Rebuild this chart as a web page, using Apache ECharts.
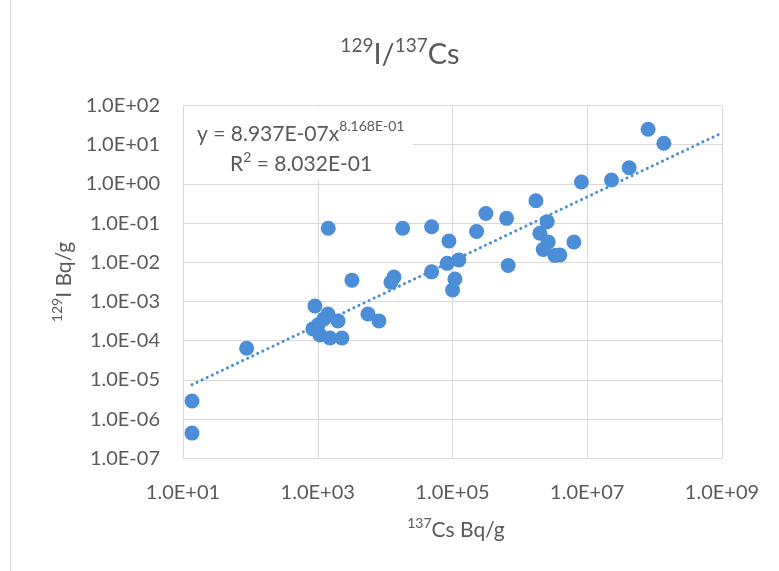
<!DOCTYPE html>
<html>
<head>
<meta charset="utf-8">
<script src="https://cdn.jsdelivr.net/npm/echarts@6/dist/echarts.min.js"></script>
<style>
html,body{margin:0;padding:0;background:#fff;}
#chart{width:779px;height:571px;}
</style>
</head>
<body>
<div id="chart"></div>
<script>
// ---- data ----
const cs137 = [13.6, 13.6, 88, 908, 1416, 1995, 849, 1007, 1079, 1518, 2286, 1236, 5560, 8090,
  1432, 3214, 12190, 13520, 18200, 49000, 49000, 88500, 83400, 124000, 108600, 100200,
  227500, 313000, 635000, 670000, 1.73e6, 1.98e6, 2.54e6, 2.63e6, 2.22e6, 3.30e6, 3.92e6, 6.33e6,
  8.2e6, 2.29e7, 4.19e7, 8.0e7, 1.37e8];
const i129 = [2.9e-6, 4.4e-7, 6.4e-5, 7.7e-4, 4.8e-4, 3.2e-4, 2.0e-4, 2.5e-4, 1.4e-4, 1.17e-4, 1.17e-4, 3.6e-4, 4.8e-4, 3.2e-4,
  0.0736, 3.5e-3, 3.1e-3, 4.2e-3, 0.0736, 0.081, 5.7e-3, 0.035, 9.4e-3, 0.0115, 3.75e-3, 1.96e-3,
  0.061, 0.176, 0.132, 8.3e-3, 0.372, 0.055, 0.109, 0.033, 0.0212, 0.0149, 0.0153, 0.033,
  1.12, 1.26, 2.59, 24.7, 10.9];
// power trendline shown on the chart: y = a * x^b
const trendA = 8.937e-7;
const trendB = 0.8168;
const trendX = [13.6, 1e9];
const xTicks = [10, 1e3, 1e5, 1e7, 1e9];
const yTicks = [1e-7, 1e-6, 1e-5, 1e-4, 1e-3, 1e-2, 1e-1, 1, 10, 100];

const FONT = 'Lato';
const GRAY = '#595959';
const BLUE = '#4B8DD6';
const GRID = '#d9d9d9';

function sci(v) {
  const e = Math.round(Math.log10(v));
  return '1.0E' + (e < 0 ? '-' : '+') + String(Math.abs(e)).padStart(2, '0');
}

const scatterData = cs137.map((x, i) => [x, i129[i]]);
const trendData = trendX.map(x => [x, trendA * Math.pow(x, trendB)]);

function richStyle(mainSize, supSize, lh, raise) {
  return {
    m: {fontFamily: FONT, fontSize: mainSize, lineHeight: lh, fill: GRAY, verticalAlign: 'bottom'},
    s: {fontFamily: FONT, fontSize: supSize, lineHeight: supSize, fill: GRAY, verticalAlign: 'bottom', padding: [0, 0, raise, 0]}
  };
}

const chart = echarts.init(document.getElementById('chart'), null, {renderer: 'canvas'});
chart.setOption({
  animation: false,
  backgroundColor: '#fff',
  grid: {left: 183, right: 57, top: 105.5, bottom: 112.7, containLabel: false},
  xAxis: {
    type: 'log', logBase: 10, min: xTicks[0], max: xTicks[xTicks.length - 1], interval: 2,
    axisLine: {show: true, lineStyle: {color: GRID, width: 1}},
    axisTick: {show: false},
    splitLine: {show: true, lineStyle: {color: GRID, width: 1}},
    axisLabel: {formatter: sci, color: GRAY, fontFamily: FONT, fontSize: 20, margin: 24}
  },
  yAxis: {
    type: 'log', logBase: 10, min: yTicks[0], max: yTicks[yTicks.length - 1],
    axisLine: {show: true, lineStyle: {color: GRID, width: 1}},
    axisTick: {show: false},
    splitLine: {show: true, lineStyle: {color: GRID, width: 1}},
    axisLabel: {formatter: sci, color: GRAY, fontFamily: FONT, fontSize: 20, margin: 23}
  },
  series: [
    {
      type: 'line', data: trendData, showSymbol: false, symbol: 'none', silent: true, z: 2,
      lineStyle: {color: BLUE, width: 3, type: [0.1, 5.5], cap: 'round'}
    },
    {
      type: 'scatter', data: scatterData, symbol: 'circle', symbolSize: 15, z: 3,
      itemStyle: {color: BLUE, opacity: 1}
    }
  ],
  graphic: [
    {type: 'line', shape: {x1: 10.5, y1: 0, x2: 10.5, y2: 571}, style: {stroke: '#d9d9d9', lineWidth: 1}, silent: true},
    {type: 'rect', shape: {x: 184, y: 107, width: 229, height: 73}, style: {fill: '#fff'}, z: 10, silent: true},
    {
      type: 'text', x: 400, y: 52, z: 11, silent: true,
      style: {
        text: '{s|129}{m|I/}{s|137}{m|Cs}', textAlign: 'center', textVerticalAlign: 'middle',
        rich: richStyle(29, 19, 34, 14)
      }
    },
    {
      type: 'text', x: 197, y: 131, z: 11, silent: true,
      style: {
        text: '{m|y = 8.937E-07x}{s|8.168E-01}', textAlign: 'left', textVerticalAlign: 'middle',
        rich: richStyle(21, 14, 28, 12)
      }
    },
    {
      type: 'text', x: 230, y: 161, z: 11, silent: true,
      style: {
        text: '{m|R}{s|2}{m| = 8.032E-01}', textAlign: 'left', textVerticalAlign: 'middle',
        rich: richStyle(21, 14, 28, 11)
      }
    },
    {
      type: 'text', x: 456, y: 527, z: 11, silent: true,
      style: {
        text: '{s|137}{m|Cs Bq/g}', textAlign: 'center', textVerticalAlign: 'middle',
        rich: richStyle(21, 14, 28, 11)
      }
    },
    {
      type: 'text', x: 61, y: 282, rotation: Math.PI / 2, z: 11, silent: true,
      style: {
        text: '{s|129}{m|I Bq/g}', textAlign: 'center', textVerticalAlign: 'middle',
        rich: richStyle(21, 14, 28, 11)
      }
    }
  ]
});
</script>
</body>
</html>
